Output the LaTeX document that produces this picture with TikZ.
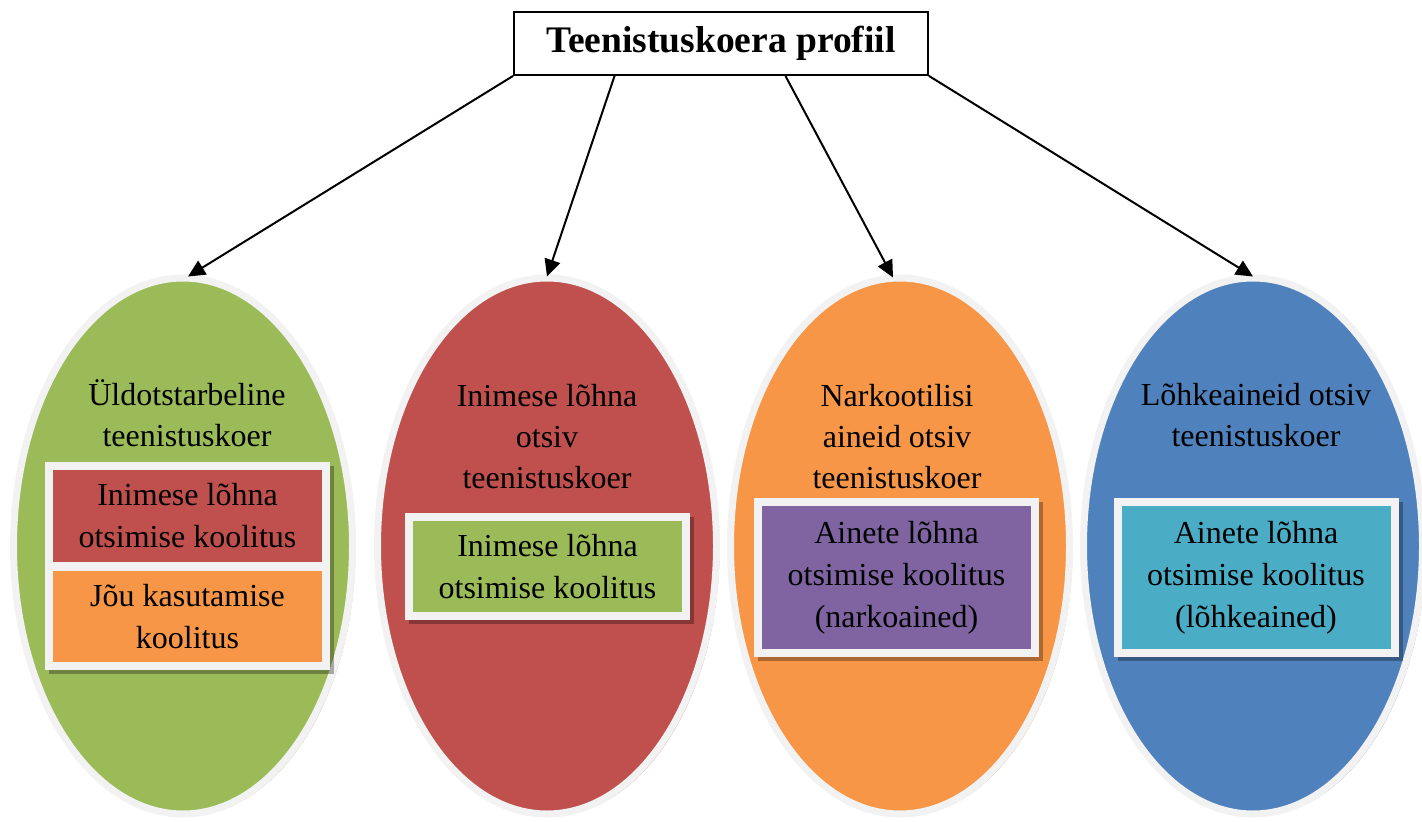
\documentclass[tikz,border=0pt]{standalone}
\usepackage{fontspec}
\setmainfont{Liberation Serif}
\usetikzlibrary{shapes.geometric,arrows.meta,calc}
\definecolor{cgreen}{HTML}{9BBB59}
\definecolor{cred}{HTML}{C0504D}
\definecolor{corange}{HTML}{F79646}
\definecolor{cblue}{HTML}{4F81BD}
\definecolor{cpurple}{HTML}{8064A2}
\definecolor{ccyan}{HTML}{4BACC6}
\definecolor{cborder}{HTML}{F2F2F2}
\tikzset{
  egg/.style={ellipse, draw=cborder, line width=7pt, minimum width=339pt, minimum height=536pt, inner sep=0pt},
  eggshadow/.style={ellipse, minimum width=339pt, minimum height=536pt, inner sep=0pt},
  trainbox/.style={rectangle, draw=cborder, line width=8pt, minimum width=277pt, inner sep=0pt, align=center, font=\fontsize{32}{42}\selectfont},
  boxshadow/.style={rectangle, fill=black, opacity=0.3, minimum width=285pt, inner sep=0pt},
  eggtext/.style={anchor=base, align=center, inner sep=0pt, font=\fontsize{32}{41}\selectfont},
  arr/.style={line width=2pt, -{Triangle[length=17pt,width=16pt]}}
}
\begin{document}
\begin{tikzpicture}[x=1pt,y=-1pt]
\useasboundingbox (0,0) rectangle (1422,822);
% ellipse shadows
\node[eggshadow, fill=cgreen!60!gray!80] at (186,548) {};
\node[eggshadow, fill=cred!60!gray!80] at (550,548) {};
\node[eggshadow, fill=corange!60!gray!80] at (903,548) {};
\node[eggshadow, fill=cblue!60!gray!80] at (1256,548) {};
% ellipses
\node[egg, fill=cgreen] (g) at (183,546) {};
\node[egg, fill=cred] (r) at (547,546) {};
\node[egg, fill=corange] (o) at (900,546) {};
\node[egg, fill=cblue] (b) at (1253,546) {};
% ellipse titles (base = last line)
\node[eggtext] (gt) at (187,446) {Üldotstarbeline\\teenistuskoer};
\node[eggtext] (rt) at (547,488) {Inimese lõhna\\otsiv\\teenistuskoer};
\node[eggtext] (ot) at (897,488) {Narkootilisi\\aineid otsiv\\teenistuskoer};
\node[eggtext] (bt) at (1256,446) {Lõhkeaineid otsiv\\teenistuskoer};
% box shadows
\node[boxshadow, minimum height=208pt] at (191.5,570) {};
\node[boxshadow, minimum height=107pt] at (551.5,570.5) {};
\node[boxshadow, minimum height=159pt] at (900.5,581.5) {};
\node[boxshadow, minimum height=159pt] at (1260,581.5) {};
% training boxes
\node[trainbox, fill=cred, minimum height=100pt] (g1) at (187.5,516) {Inimese lõhna\\otsimise koolitus};
\node[trainbox, fill=corange, minimum height=99pt] (g2) at (187.5,616.5) {Jõu kasutamise\\koolitus};
\node[trainbox, fill=cgreen, minimum height=99pt] (r1) at (547.5,566.5) {Inimese lõhna\\otsimise koolitus};
\node[trainbox, fill=cpurple, minimum height=151pt] (o1) at (896.5,577.5) {Ainete lõhna\\otsimise koolitus\\(narkoained)};
\node[trainbox, fill=ccyan, minimum height=151pt] (b1) at (1256,577.5) {Ainete lõhna\\otsimise koolitus\\(lõhkeained)};
% title
\node[draw=black, line width=1.8pt, minimum width=414pt, minimum height=63pt, inner sep=0pt, font=\bfseries\fontsize{37.5}{44}\selectfont] (top) at (721,43.5) {Teenistuskoera profiil};
% arrows
\coordinate (s2) at ($(top.south west)!0.244!(top.south east)$);
\coordinate (s3) at ($(top.south west)!0.655!(top.south east)$);
\draw[arr] (top.south west) -- ([xshift=5pt,yshift=-2pt]g.north);
\draw[arr] (s2) -- ([yshift=-2pt]r.north);
\draw[arr] (s3) -- ([xshift=-7pt,yshift=-3pt]o.north);
\draw[arr] (top.south east) -- ([yshift=-2pt]b.north);
\end{tikzpicture}
\end{document}
